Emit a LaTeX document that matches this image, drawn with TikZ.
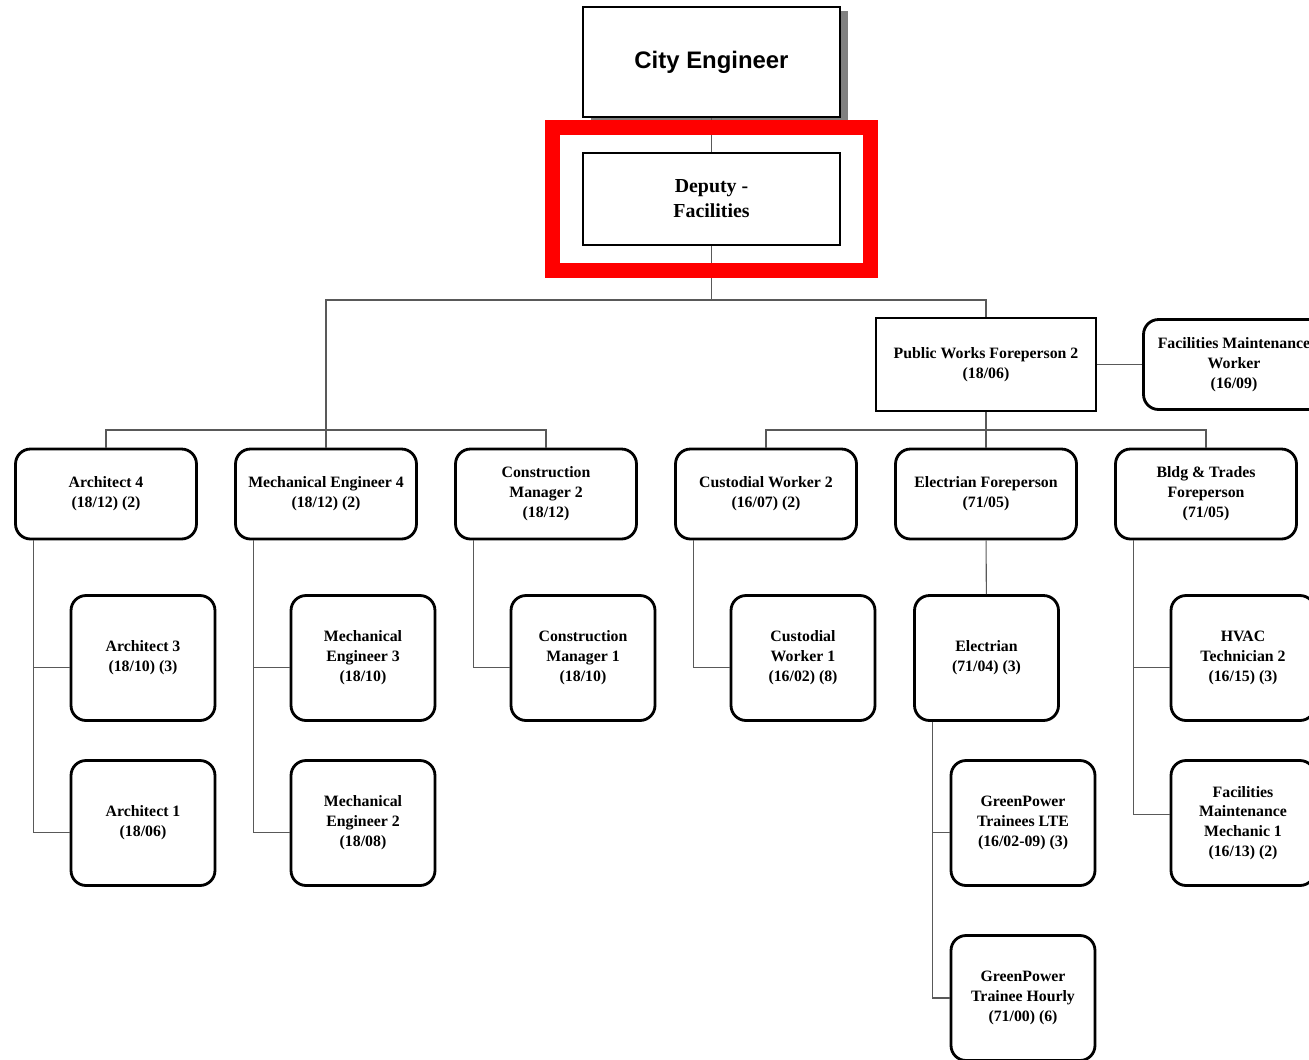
\documentclass[tikz,border=0pt]{standalone}
\usepackage{fontspec}
\setmainfont{Liberation Serif}
\newfontfamily\headfont{Liberation Sans}
\usetikzlibrary{fit,shadows}

\begin{document}
\begin{tikzpicture}[x=0.02cm, y=-0.02cm,
    post/.style={draw, fill=white, line width=1.6pt, rounded corners=0.3cm, align=center, inner sep=1pt,
      font=\fontsize{9}{11.3}\selectfont\bfseries, minimum width=3.62cm, minimum height=1.8cm},
    sub/.style={post, minimum width=2.88cm, minimum height=2.5cm},
    head/.style={post, sharp corners},
    link/.style={draw=black!65, line width=0.6pt}]
        \useasboundingbox (0,0) rectangle (1309,1059);
        \clip (0,0) rectangle (1309,1059);
        % top of the chart
        \node[head, minimum width=5.14cm, minimum height=2.2cm,
          drop shadow={shadow xshift=0.16cm, shadow yshift=-0.08cm, fill=black!50, opacity=1},
          font=\headfont\fontsize{13.6}{16}\selectfont\bfseries] (ce) at (711.5,62) {City Engineer};
        \node[head, minimum width=5.14cm, minimum height=1.84cm,
          font=\fontsize{11.3}{14.2}\selectfont\bfseries] (dep) at (711.5,199) {Deputy -\\Facilities};
        \node[head, minimum width=4.4cm, minimum height=1.86cm] (pwf) at (986,364.5) {Public Works Foreperson 2\\(18/06)};
        \node[post] (fmw) at (1234,364.5) {Facilities Maintenance\\Worker\\(16/09)};
        % second row
        \node[post] (arch4) at (106,494) {Architect 4\\(18/12) (2)};
        \node[post] (mech4) at (326,494) {Mechanical Engineer 4\\(18/12) (2)};
        \node[post] (cm2) at (546,494) {Construction\\Manager 2\\(18/12)};
        \node[post] (cw2) at (766,494) {Custodial Worker 2\\(16/07) (2)};
        \node[post] (elf) at (986,494) {Electrian Foreperson\\(71/05)};
        \node[post] (btf) at (1206,494) {Bldg \& Trades\\Foreperson\\(71/05)};
        % staff under them
        \node[sub] (arch3) at (143,658) {Architect 3\\(18/10) (3)};
        \node[sub] (arch1) at (143,823) {Architect 1\\(18/06)};
        \node[sub] (me3) at (363,658) {Mechanical\\Engineer 3\\(18/10)};
        \node[sub] (me2) at (363,823) {Mechanical\\Engineer 2\\(18/08)};
        \node[sub] (cm1) at (583,658) {Construction\\Manager 1\\(18/10)};
        \node[sub] (cw1) at (803,658) {Custodial\\Worker 1\\(16/02) (8)};
        \node[sub] (el) at (986.5,658) {Electrian\\(71/04) (3)};
        \node[sub] (gpl) at (1023,823) {GreenPower\\Trainees LTE\\(16/02-09) (3)};
        \node[sub] (gph) at (1023,998) {GreenPower\\Trainee Hourly\\(71/00) (6)};
        \node[sub] (hvac) at (1243,658) {HVAC\\Technician 2\\(16/15) (3)};
        \node[sub] (fmm) at (1243,823) {Facilities\\Maintenance\\Mechanic 1\\(16/13) (2)};
        \coordinate (top) at (711.5,300);
        \coordinate (left) at (326,430);
        \coordinate (right) at (986,430);
        \path[link]
            (ce) edge (dep)
            (dep) edge (top)
            (pwf) edge (elf)
            (pwf) edge (fmw)
            (elf) edge (el);
        \draw[link] (mech4.north) |- (top) -| (pwf.north);
        \draw[link] (arch4.north) |- (left) -| (cm2.north);
        \draw[link] (cw2.north) |- (right) -| (btf.north);
        \foreach \boss/\staff in {arch4/arch3, arch4/arch1, mech4/me3, mech4/me2, cm2/cm1, cw2/cw1, el/gpl, btf/hvac}
            \draw[link] ([xshift=0.38cm]\boss.south west) |- ([yshift=-0.19cm]\staff.west);
        \draw[link] ([xshift=0.38cm]el.south west) |- (gph.west);
        \draw[link] ([xshift=0.38cm]btf.south west) |- ([yshift=0.17cm]fmm.west);
        % red mark round the deputy
        \node[fit=(dep), draw=red, line width=0.3cm, inner xsep=0.58cm, inner ysep=0.49cm] (mark) {};
\end{tikzpicture}
\end{document}
